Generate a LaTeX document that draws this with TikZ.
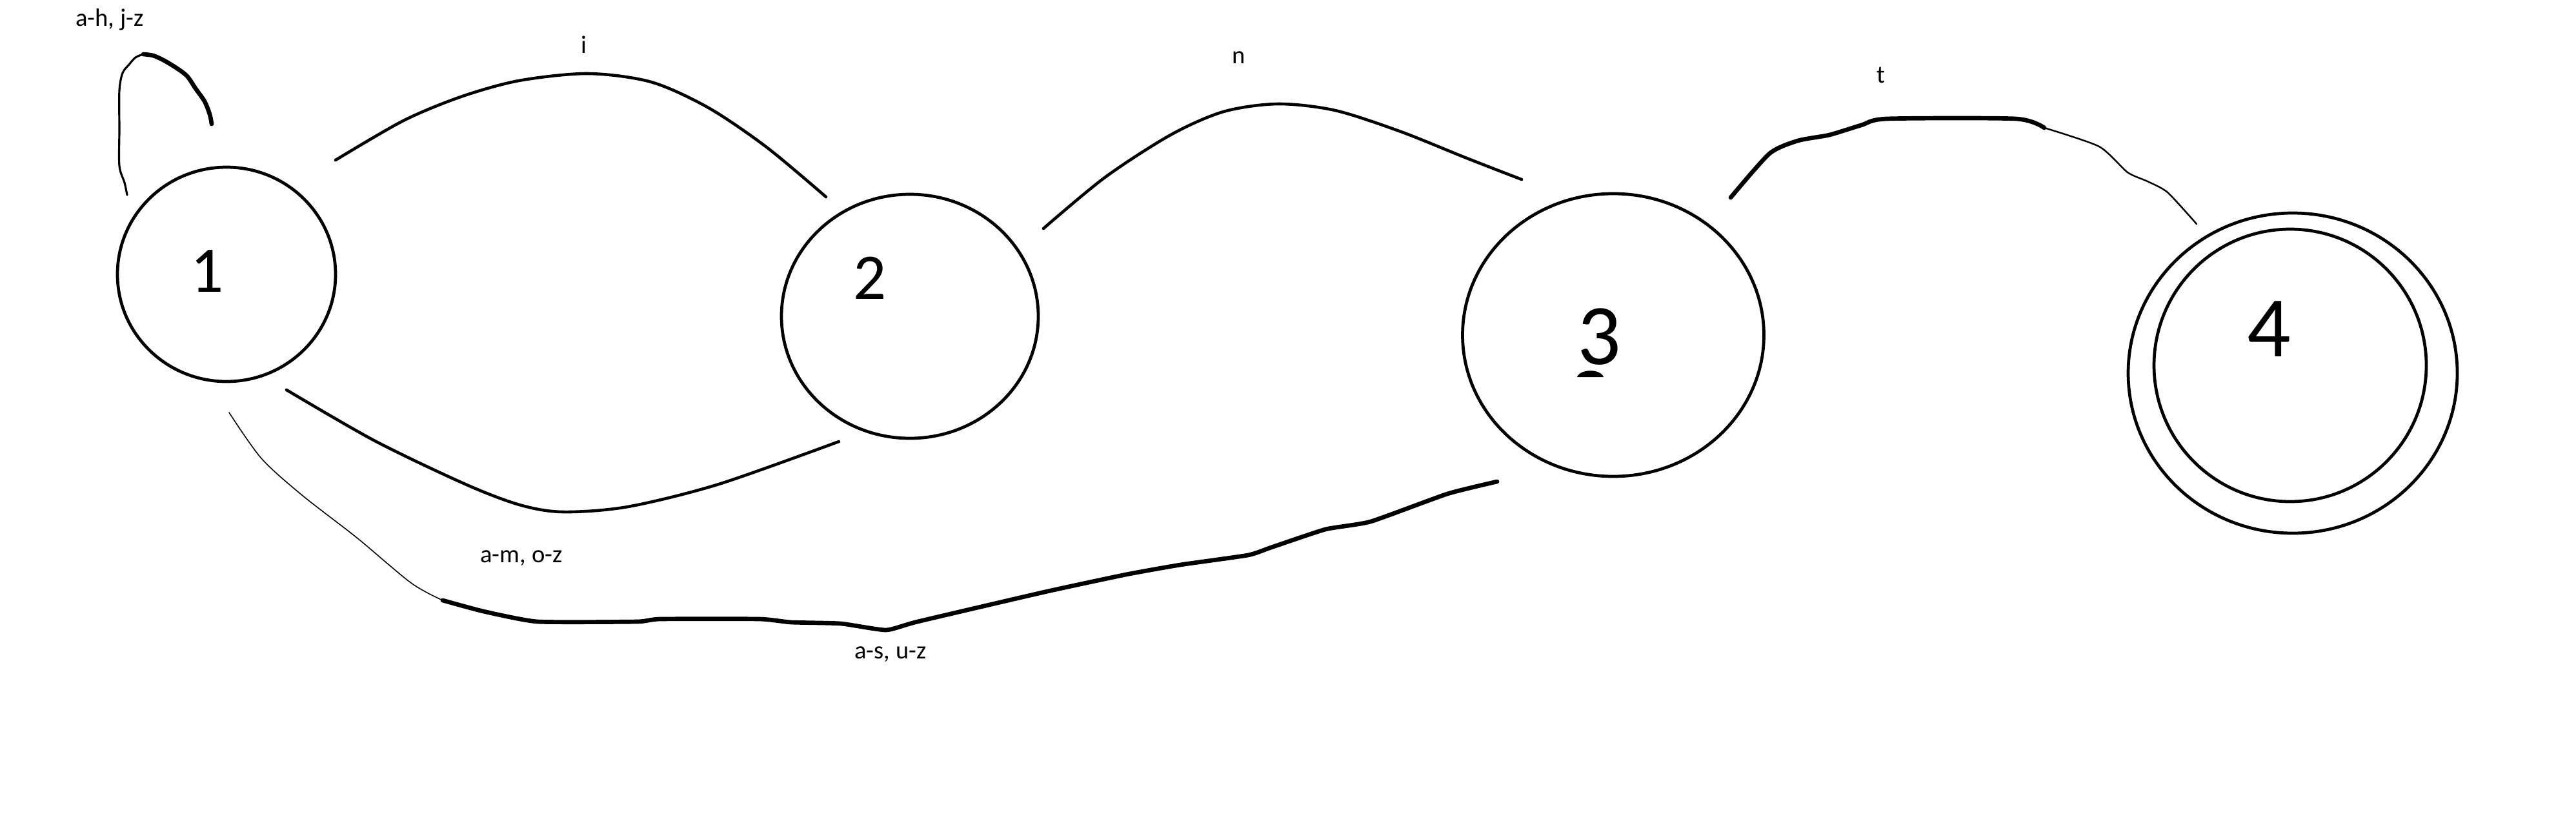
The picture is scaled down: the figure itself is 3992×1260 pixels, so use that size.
\documentclass[tikz,border=0pt]{standalone}
\usepackage{fontspec}
\setmainfont{Carlito}
\usetikzlibrary{shapes.geometric}
\tikzset{
  state/.style={draw, ellipse, line width=1.35pt, inner sep=0pt},
  digitsm/.style={font=\fontsize{28.7}{30}\selectfont, inner sep=0pt},
  digitlg/.style={font=\fontsize{38}{40}\selectfont, inner sep=0pt},
  lbl/.style={font=\fontsize{11}{13}\selectfont, inner sep=0pt, anchor=base},
  edge/.style={line width=1.3pt, line cap=round, line join=round},
  thinedge/.style={line width=0.45pt, line cap=round, line join=round},
  thickedge/.style={line width=1.9pt, line cap=round, line join=round}
}
\begin{document}
\begin{tikzpicture}[x=0.1mm, y=-0.1mm]
\fill[white] (0,0) rectangle (3992,1260);
\useasboundingbox (0,0) rectangle (3992,1260);

% states
\node[state, minimum width=33.8mm, minimum height=33.2mm] (n1) at (351,425) {};
\node[state, minimum width=39.8mm, minimum height=37.8mm] (n2) at (1410,490) {};
\node[state, minimum width=46.7mm, minimum height=43.8mm] (n3) at (2500,519) {};
\node[state, minimum width=51mm, minimum height=49.6mm] (n4) at (3553,578) {};
\node[state, minimum width=42.2mm, minimum height=42.2mm] (n4i) at (3549,566) {};

% state numbers
\node[digitsm] (d1) at (321,420) {1};
\node[digitsm] (d2) at (1348,431) {2};
\node[digitlg] (d3) at (2478,522) {3};
\node[digitlg] (d4) at (3516,510) {4};
\fill (2444,584) .. controls (2449,571) and (2480,571) .. (2485,584) -- cycle;

% connector end points
\coordinate (l1s) at (197,302);
\coordinate (l1e) at (328,192);
\coordinate (i1) at (520,248);
\coordinate (i2) at (1280,305);
\coordinate (n2s) at (1617,354);
\coordinate (n3e) at (2358,278);
\coordinate (m1) at (444,604);
\coordinate (m2) at (1300,684);
\coordinate (s1) at (355,639);
\coordinate (s3) at (2320,746);
\coordinate (t3) at (2682,306);
\coordinate (t4) at (3404,347);

% self loop on 1
\draw[edge, line width=0.9pt] plot[smooth, tension=0.5] coordinates {(l1s) (193,283) (185,257) (185,200) (185,140) (190,113) (200,100) (210,89) (222,84)};
\draw[thickedge] plot[smooth, tension=0.5] coordinates {(222,84) (237,86) (253,93) (273,105) (290,118) (303,137) (317,157) (325,177) (l1e)};

% 1 -> 2 (i)
\draw[edge] plot[smooth] coordinates {(i1) (625,187) (714,150) (804,125) (911,114) (1009,127) (1098,167) (1188,228) (i2)};

% 2 -> 3 (n)
\draw[edge] plot[smooth] coordinates {(n2s) (1712,275) (1814,209) (1896,173) (1980,161) (2069,171) (2171,204) (2273,245) (n3e)};

% 1 -> 2 lower (a-m, o-z)
\draw[edge] plot[smooth] coordinates {(m1) (581,683) (721,750) (805,782) (872,793) (973,785) (1114,750) (m2)};

% 1 -> 3 (a-s, u-z)
\draw[thinedge] plot[smooth, tension=0.5] coordinates {(s1) (405,710) (468,767) (553,833) (637,903) (686,930)};
\draw[thickedge] plot[smooth, tension=0.3] coordinates {(686,930) (749,947) (833,963) (987,963) (1023,959) (1177,959) (1226,964) (1303,966) (1373,976) (1422,963) (1619,917) (1745,890) (1829,875) (1934,860) (1970,848) (2054,820) (2124,808) (2243,765) (s3)};

% 3 -> 4 (t)
\draw[thickedge] plot[smooth, tension=0.4] coordinates {(t3) (2742,238) (2786,218) (2835,209) (2884,194) (2924,184) (3124,184) (3168,198)};
\draw[thinedge, line width=0.7pt] plot[smooth, tension=0.4] coordinates {(3168,198) (3253,227) (3297,267) (3328,281) (3359,298) (t4)};

% labels
\node[lbl] (la) at (170,40) {a-h, j-z};
\node[lbl] (li) at (905,82) {i};
\node[lbl] (ln) at (1920,98) {n};
\node[lbl] (lt) at (2915,128) {t};
\node[lbl] (lm) at (808,871) {a-m, o-z};
\node[lbl] (ls) at (1380,1020) {a-s, u-z};
\end{tikzpicture}
\end{document}
